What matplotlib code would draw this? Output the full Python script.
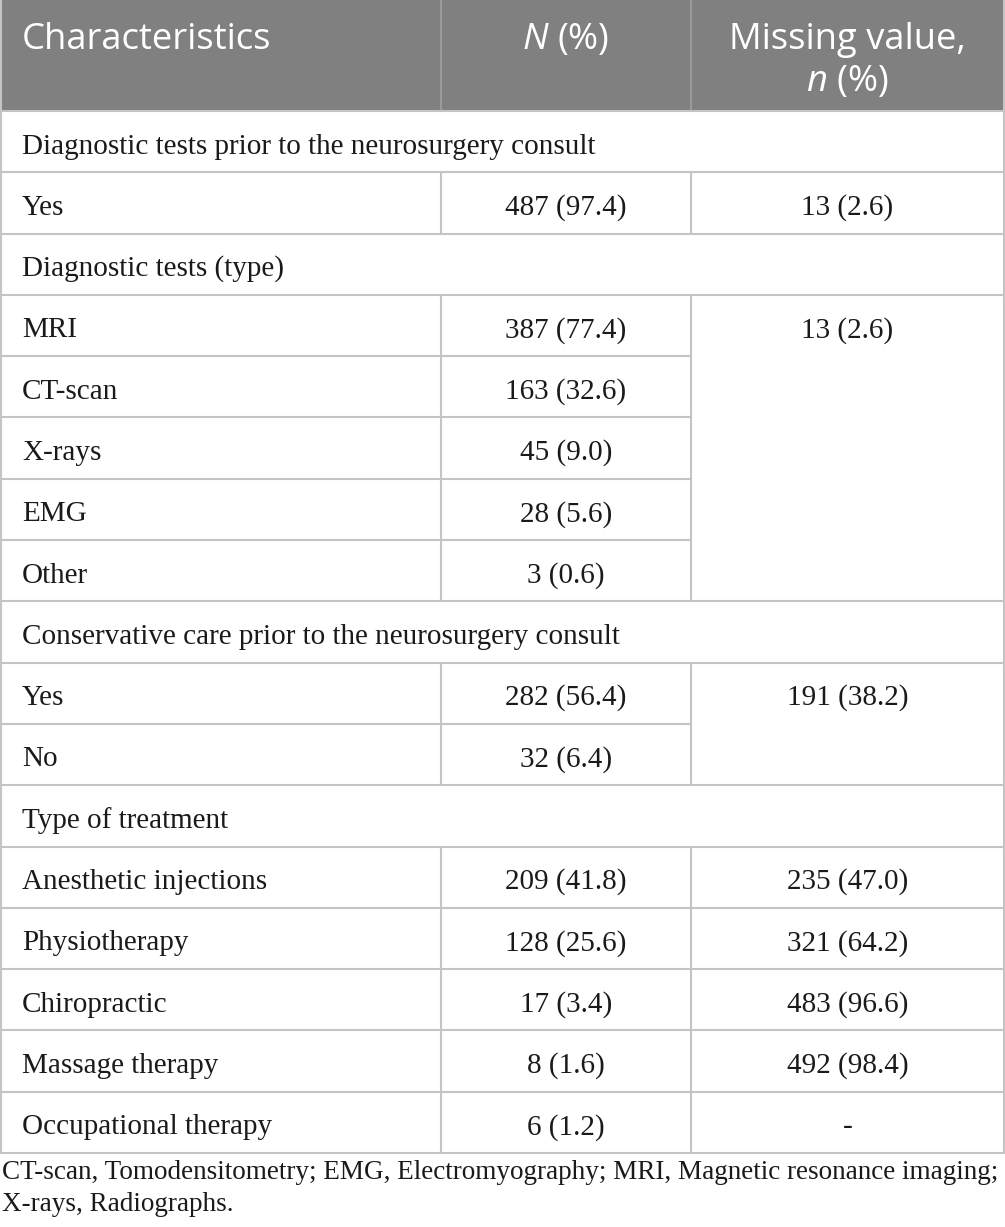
import matplotlib
matplotlib.use("Agg")
import matplotlib.pyplot as plt
from matplotlib.patches import Rectangle

plt.rcParams['font.serif'] = ['Liberation Serif', 'DejaVu Serif']
plt.rcParams['font.family'] = 'serif'
plt.rcParams['mathtext.fontset'] = 'custom'
plt.rcParams['mathtext.rm'] = 'Open Sans'
plt.rcParams['mathtext.it'] = 'Open Sans:italic'

# ---- data ----
header_cols = ["Characteristics", r"$\it{N}$ (%)", "Missing value,\n" + r"$\it{n}$ (%)"]

row_labels = [
    "Diagnostic tests prior to the neurosurgery consult",
    "Yes",
    "Diagnostic tests (type)",
    "MRI",
    "CT-scan",
    "X-rays",
    "EMG",
    "Other",
    "Conservative care prior to the neurosurgery consult",
    "Yes",
    "No",
    "Type of treatment",
    "Anesthetic injections",
    "Physiotherapy",
    "Chiropractic",
    "Massage therapy",
    "Occupational therapy",
]
is_section = [True, False, True, False, False, False, False, False,
              True, False, False, True, False, False, False, False, False]
n_values = [None, "487 (97.4)", None, "387 (77.4)", "163 (32.6)", "45 (9.0)",
            "28 (5.6)", "3 (0.6)", None, "282 (56.4)", "32 (6.4)", None,
            "209 (41.8)", "128 (25.6)", "17 (3.4)", "8 (1.6)", "6 (1.2)"]
missing_values = [None, "13 (2.6)", None, "13 (2.6)", None, None, None, None,
                  None, "191 (38.2)", None, None,
                  "235 (47.0)", "321 (64.2)", "483 (96.6)", "492 (98.4)", "-"]
# number of rows each missing-value cell spans (0 = covered by a merged cell above)
missing_span = [1, 1, 1, 5, 0, 0, 0, 0, 1, 2, 0, 1, 1, 1, 1, 1, 1]

footnote = ("CT-scan, Tomodensitometry; EMG, Electromyography; MRI, Magnetic resonance imaging;\n"
            "X-rays, Radiographs.")

# ---- layout ----
W, H = 1005, 1227
col_x = [0, 441, 691, 1004]
header_h = 111
table_bottom = 1153
nrows = len(row_labels)
row_h = (table_bottom - header_h) / nrows

grid_color = "#c4c4c4"
header_bg = "#808080"
text_color = "#1a1a1a"
lw = 1.5
body_size = 21
foot_size = 19.5
head_size = 26.2
head_font = "Open Sans"

fig = plt.figure(figsize=(W / 100, H / 100), dpi=100)
ax = fig.add_axes([0, 0, 1, 1])
ax.set_xlim(0, W)
ax.set_ylim(H, 0)
ax.axis("off")

# header
ax.add_patch(Rectangle((0, 0), col_x[-1], header_h, facecolor=header_bg, edgecolor="none"))
for x in col_x[1:-1]:
    ax.plot([x, x], [0, header_h], color="#9a9a9a", lw=lw, solid_capstyle="butt")

ax.text(22, 49, header_cols[0], color="white", fontsize=head_size, family=head_font,
        ha="left", va="baseline")
ax.text((col_x[1] + col_x[2]) / 2, 49, header_cols[1], color="white", fontsize=head_size,
        family=head_font, ha="center", va="baseline")
mv_lines = header_cols[2].split("\n")
ax.text((col_x[2] + col_x[3]) / 2, 49, mv_lines[0], color="white", fontsize=head_size,
        family=head_font, ha="center", va="baseline")
ax.text((col_x[2] + col_x[3]) / 2, 91, mv_lines[1], color="white", fontsize=head_size,
        family=head_font, ha="center", va="baseline")

# body rows
for i, label in enumerate(row_labels):
    y0 = header_h + i * row_h
    y1 = y0 + row_h
    yb = y0 + 42.5
    ax.text(22, yb, label, fontsize=body_size, ha="left", va="baseline", color=text_color)
    if n_values[i] is not None:
        ax.text((col_x[1] + col_x[2]) / 2, yb, n_values[i], fontsize=body_size,
                ha="center", va="baseline", color=text_color)
    if missing_values[i] is not None:
        ax.text((col_x[2] + col_x[3]) / 2, yb, missing_values[i], fontsize=body_size,
                ha="center", va="baseline", color=text_color)
    # vertical separators
    if not is_section[i]:
        for x in col_x[1:3]:
            ax.plot([x, x], [y0, y1], color=grid_color, lw=lw, solid_capstyle="butt")
    # horizontal line at the bottom of the row
    last_in_span = not (i + 1 < nrows and missing_span[i + 1] == 0)
    x_end = col_x[-1] if last_in_span else col_x[2]
    ax.plot([0, x_end], [y1, y1], color=grid_color, lw=lw, solid_capstyle="butt")

# outer borders
ax.plot([1, 1], [0, table_bottom], color=grid_color, lw=lw)
ax.plot([col_x[-1], col_x[-1]], [0, table_bottom], color=grid_color, lw=lw)
ax.plot([0, col_x[-1]], [header_h, header_h], color=grid_color, lw=lw)

# footnote
fn_lines = footnote.split("\n")
ax.text(2, 1179, fn_lines[0], fontsize=foot_size, ha="left", va="baseline", color=text_color)
ax.text(2, 1211, fn_lines[1], fontsize=foot_size, ha="left", va="baseline", color=text_color)

fig.savefig("out.png", dpi=100, facecolor="white")
